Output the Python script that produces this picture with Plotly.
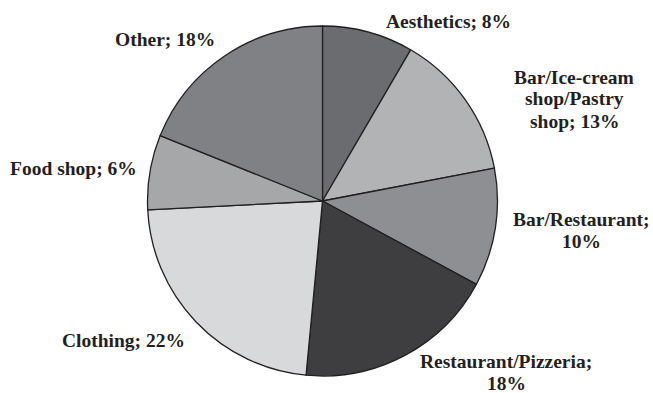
import plotly.graph_objects as go

# Data (clockwise from 12 o'clock)
categories = ["Aesthetics", "Bar/Ice-cream shop/Pastry shop", "Bar/Restaurant",
              "Restaurant/Pizzeria", "Clothing", "Food shop", "Other"]
shares = [8.4, 13.6, 10.9, 18.6, 22.7, 6.9, 18.9]
pct_labels = ["8%", "13%", "10%", "18%", "22%", "6%", "18%"]

colors = ["#6b6c6f", "#b2b3b5", "#8e8f92", "#3e3e40", "#d8d9db", "#a6a7a9", "#808184"]

W, H = 653, 393
cx, cy, R = 322.5, 201, 175

fig = go.Figure(go.Pie(
    labels=categories,
    values=shares,
    sort=False,
    direction="clockwise",
    rotation=0,
    textinfo="none",
    hoverinfo="label+percent",
    marker=dict(colors=colors, line=dict(color="#231f20", width=1.3)),
    domain=dict(x=[(cx - R) / W, (cx + R) / W], y=[(H - cy - R) / H, (H - cy + R) / H]),
    showlegend=False,
))

# label lines and placement (pixel centre x, first-line y)
label_lines = [
    ["Aesthetics; " + pct_labels[0]],
    ["Bar/Ice-cream", "shop/Pastry", "shop; " + pct_labels[1]],
    ["Bar/Restaurant;", pct_labels[2]],
    ["Restaurant/Pizzeria;", pct_labels[3]],
    ["Clothing; " + pct_labels[4]],
    ["Food shop; " + pct_labels[5]],
    ["Other; " + pct_labels[6]],
]
label_pos = [(448, 22), (574, 77), (581, 219), (506, 361), (123, 340), (73, 168), (165, 39)]
line_h = 22

annotations = []
for lines, (px, py) in zip(label_lines, label_pos):
    for i, t in enumerate(lines):
        annotations.append(dict(
            x=px / W, y=1 - (py + i * line_h) / H, xref="paper", yref="paper",
            text=t, showarrow=False, xanchor="center", yanchor="middle",
            font=dict(family="Liberation Serif", size=19.5, color="#231f20", weight="bold"),
        ))

fig.update_layout(
    width=W, height=H,
    margin=dict(l=0, r=0, t=0, b=0),
    paper_bgcolor="white", plot_bgcolor="white",
    annotations=annotations,
)

fig.write_html("out.html")
